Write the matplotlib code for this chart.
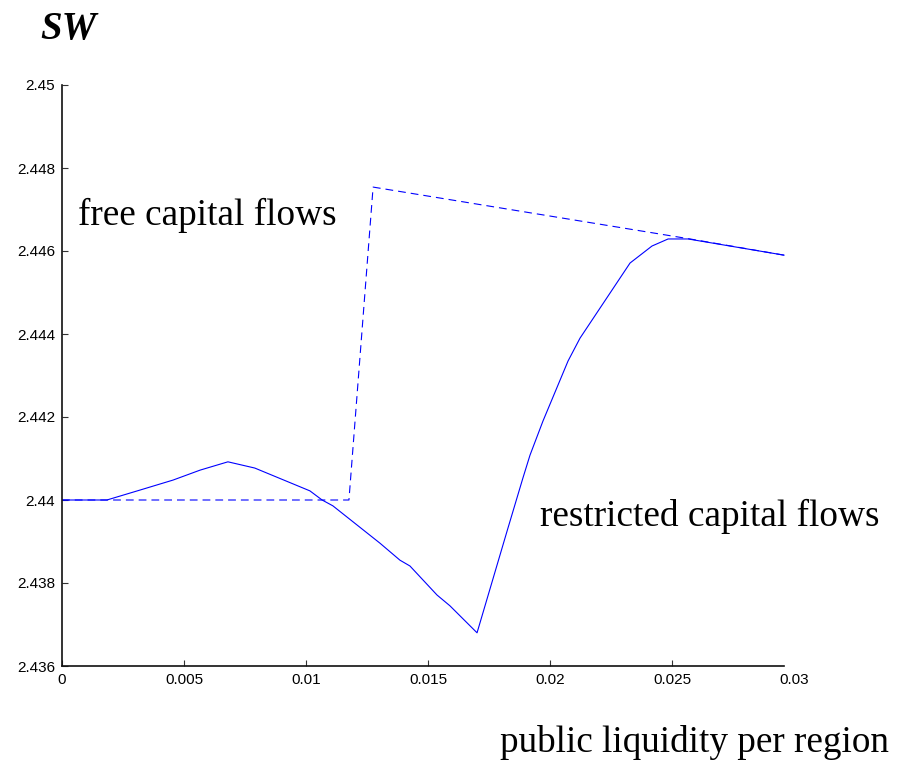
import matplotlib
matplotlib.use('Agg')
import matplotlib.pyplot as plt

# public liquidity per region (x) and social welfare SW (y)
x_restricted = [0.0, 0.00184, 0.0032, 0.00455, 0.00566, 0.0068, 0.0079, 0.01016,
                0.01066, 0.0111, 0.01303, 0.01385, 0.01426, 0.01537, 0.0159, 0.01701,
                0.01824, 0.01889, 0.01918, 0.01971, 0.02074, 0.02123, 0.02328,
                0.02418, 0.02484, 0.02566, 0.02959]
sw_restricted = [2.44, 2.44, 2.44024, 2.44048, 2.44072, 2.44092, 2.44077, 2.44022,
                 2.44, 2.43986, 2.43896, 2.43855, 2.43841, 2.43771, 2.43745, 2.4368,
                 2.43925, 2.44053, 2.44108, 2.4419, 2.44335, 2.4439, 2.44571,
                 2.44612, 2.44629, 2.44629, 2.4459]

x_free = [0.0, 0.01176, 0.01275, 0.02574, 0.02959]
sw_free = [2.44, 2.44, 2.44754, 2.44629, 2.4459]

xticks = [0, 0.005, 0.01, 0.015, 0.02, 0.025, 0.03]
xtick_labels = ['0', '0.005', '0.01', '0.015', '0.02', '0.025', '0.03']
yticks = [2.436, 2.438, 2.44, 2.442, 2.444, 2.446, 2.448, 2.45]
ytick_labels = ['2.436', '2.438', '2.44', '2.442', '2.444', '2.446', '2.448', '2.45']

serif = ['Liberation Serif', 'DejaVu Serif']
sans = ['Liberation Sans', 'DejaVu Sans']

fig = plt.figure(figsize=(9.02, 7.65), dpi=100)
ax = fig.add_axes([62 / 902, 1 - 666 / 765, (794 - 62) / 902, (666 - 85) / 765])

ax.plot(x_restricted, sw_restricted, color='#0000ff', lw=0.8)
ax.plot(x_free, sw_free, color='#0000ff', lw=0.8, dashes=(7, 4.5))

ax.set_xlim(0, 0.03)
ax.set_ylim(2.436, 2.45)
ax.set_xticks(xticks)
ax.set_xticklabels(xtick_labels, family=sans, fontsize=11)
ax.set_yticks(yticks)
ax.set_yticklabels(ytick_labels, family=sans, fontsize=11)
ax.tick_params(direction='in', length=4.5, width=0.8, color='#333333', pad=5)

for side in ['top', 'right']:
    ax.spines[side].set_visible(False)
for side in ['left', 'bottom']:
    ax.spines[side].set_linewidth(1.2)
    ax.spines[side].set_color('#111111')
ax.spines['bottom'].set_bounds(0, 0.02959)
ax.xaxis.get_major_ticks()[-1].tick1line.set_visible(False)

fig.text(40 / 902, 1 - 29 / 765, 'SW', family=serif, fontsize=28,
         fontweight='bold', style='italic', va='center', ha='left')
fig.text(78 / 902, 1 - 215 / 765, 'free capital flows', family=serif, fontsize=26.8,
         va='center', ha='left')
fig.text(540 / 902, 1 - 516 / 765, 'restricted capital flows', family=serif,
         fontsize=26.8, va='center', ha='left')
fig.text(500 / 902, 1 - 743 / 765, 'public liquidity per region', family=serif,
         fontsize=26.7, va='center', ha='left')

fig.savefig('out.png', dpi=100)
